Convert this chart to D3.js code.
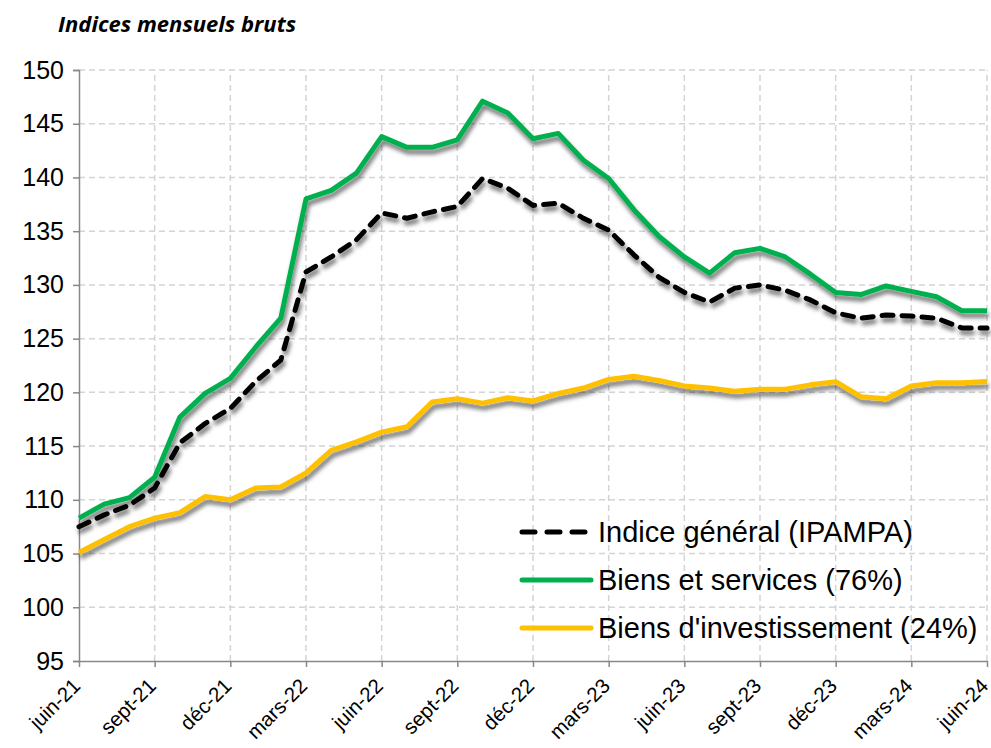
<!DOCTYPE html>
<html>
<head>
<meta charset="utf-8">
<script src="https://cdn.jsdelivr.net/npm/d3@7"></script>
<style>
  body { margin: 0; background: #fff; }
  #chart { width: 991px; height: 748px; }
</style>
</head>
<body>
<div id="chart"></div>
<script>
// mois de juin-21 a juin-24 (37 points)
var tickLabels = ["juin-21", "sept-21", "déc-21", "mars-22", "juin-22", "sept-22", "déc-22",
                  "mars-23", "juin-23", "sept-23", "déc-23", "mars-24", "juin-24"];

var ipampa = [107.5, 108.6, 109.5, 111.1, 115.3, 117.1, 118.5, 121.0, 123.0, 131.2, 132.6, 134.2,
              136.7, 136.2, 136.8, 137.3, 139.9, 139.0, 137.4, 137.6, 136.2, 135.1, 132.8, 130.7,
              129.3, 128.4, 129.7, 130.0, 129.5, 128.6, 127.4, 126.9, 127.2, 127.1, 126.9, 126.0, 126.0];

var biensServices = [108.3, 109.6, 110.2, 112.1, 117.7, 119.9, 121.3, 124.2, 126.9, 138.0, 138.8, 140.4,
                     143.8, 142.8, 142.8, 143.5, 147.1, 146.0, 143.6, 144.1, 141.6, 139.9, 137.0, 134.5,
                     132.6, 131.1, 133.0, 133.4, 132.6, 131.0, 129.3, 129.1, 129.9, 129.4, 128.9, 127.6, 127.6];

var biensInvest = [105.1, 106.3, 107.5, 108.3, 108.8, 110.3, 110.0, 111.1, 111.2, 112.5, 114.6, 115.4,
                   116.3, 116.8, 119.1, 119.4, 119.0, 119.5, 119.2, 119.9, 120.4, 121.2, 121.5, 121.1,
                   120.6, 120.4, 120.1, 120.3, 120.3, 120.7, 121.0, 119.6, 119.4, 120.6, 120.9, 120.9, 121.0];

var series = [
  {name: "Indice général (IPAMPA)", values: ipampa, color: "#000000", dash: "11,9"},
  {name: "Biens et services (76%)", values: biensServices, color: "#00b050", dash: null},
  {name: "Biens d'investissement (24%)", values: biensInvest, color: "#ffc000", dash: null}
];

var width = 991, height = 748;
var margin = {top: 70, right: 4, bottom: 87, left: 79};
var font = "'Liberation Sans', Arial, sans-serif";

var svg = d3.select("#chart").append("svg")
  .attr("width", width)
  .attr("height", height);

var defs = svg.append("defs");
var f = defs.append("filter").attr("id", "shadow")
  .attr("x", "-5%").attr("y", "-20%").attr("width", "110%").attr("height", "140%");
f.append("feDropShadow")
  .attr("dx", 1.5).attr("dy", 4.5).attr("stdDeviation", 2)
  .attr("flood-color", "#000").attr("flood-opacity", 0.55);

var x = d3.scaleLinear().domain([0, ipampa.length - 1]).range([margin.left, width - margin.right]);
var y = d3.scaleLinear().domain([95, 150]).range([height - margin.bottom, margin.top]);

// grille
svg.append("g")
  .selectAll("line")
  .data(d3.range(100, 151, 5))
  .enter().append("line")
  .attr("x1", x(0)).attr("x2", x(36))
  .attr("y1", function (d) { return y(d); })
  .attr("y2", function (d) { return y(d); })
  .attr("stroke", "#d4d4d4").attr("stroke-width", 1.5)
  .attr("stroke-dasharray", "6,4");

svg.append("g")
  .selectAll("line")
  .data(d3.range(3, 37, 3))
  .enter().append("line")
  .attr("y1", y(95)).attr("y2", y(150))
  .attr("x1", function (d) { return x(d); })
  .attr("x2", function (d) { return x(d); })
  .attr("stroke", "#d4d4d4").attr("stroke-width", 1.5)
  .attr("stroke-dasharray", "6,4");

// axes
var yAxis = d3.axisLeft(y).tickValues(d3.range(95, 151, 5)).tickSize(6).tickPadding(9);
var gy = svg.append("g")
  .attr("transform", "translate(" + margin.left + ",0)")
  .call(yAxis);
gy.selectAll("path, line").attr("stroke", "#888").attr("stroke-width", 1.5);
gy.selectAll("text")
  .style("font-family", font)
  .style("font-size", "25px")
  .attr("fill", "#000");

var xAxis = d3.axisBottom(x).tickValues(d3.range(0, 37, 3))
  .tickFormat(function (d, i) { return tickLabels[i]; })
  .tickSize(6).tickSizeOuter(0);
var gx = svg.append("g")
  .attr("transform", "translate(0," + y(95) + ")")
  .call(xAxis);
gx.selectAll("path, line").attr("stroke", "#888").attr("stroke-width", 1.5);
gx.selectAll("text")
  .style("font-family", font)
  .style("font-size", "20.5px")
  .attr("fill", "#000")
  .attr("text-anchor", "end")
  .attr("x", 0).attr("y", 0)
  .attr("dy", "0.35em")
  .attr("transform", "translate(-3,21) rotate(-45)");

// courbes
var line = d3.line()
  .x(function (d, i) { return x(i); })
  .y(function (d) { return y(d); });

var drawOrder = [series[2], series[1], series[0]];
svg.append("g").selectAll("path")
  .data(drawOrder)
  .enter().append("path")
  .attr("d", function (s) { return line(s.values); })
  .attr("fill", "none")
  .attr("stroke", function (s) { return s.color; })
  .attr("stroke-width", 5)
  .attr("stroke-linejoin", "round")
  .attr("stroke-linecap", function (s) { return s.dash ? "round" : "butt"; })
  .attr("stroke-dasharray", function (s) { return s.dash; })
  .attr("filter", "url(#shadow)");

// legende
var leg = svg.append("g").attr("transform", "translate(522,532)");
var items = leg.selectAll("g").data(series).enter().append("g")
  .attr("transform", function (s, i) { return "translate(0," + i * 48 + ")"; });
items.append("line")
  .attr("x1", 0).attr("x2", 69).attr("y1", 0).attr("y2", 0)
  .attr("stroke", function (s) { return s.color; })
  .attr("stroke-width", 5)
  .attr("stroke-linecap", "round")
  .attr("stroke-dasharray", function (s) { return s.dash ? "13,12" : null; });
items.append("text")
  .attr("x", 76).attr("y", 0).attr("dy", "0.35em")
  .style("font-family", font)
  .style("font-size", "29px")
  .attr("fill", "#000")
  .text(function (s) { return s.name; });

// titre
svg.append("text")
  .attr("x", 58).attr("y", 32)
  .style("font-family", "'Open Sans', sans-serif")
  .style("font-size", "22px")
  .style("font-weight", "bold")
  .style("font-style", "italic")
  .text("Indices mensuels bruts");
</script>
</body>
</html>
